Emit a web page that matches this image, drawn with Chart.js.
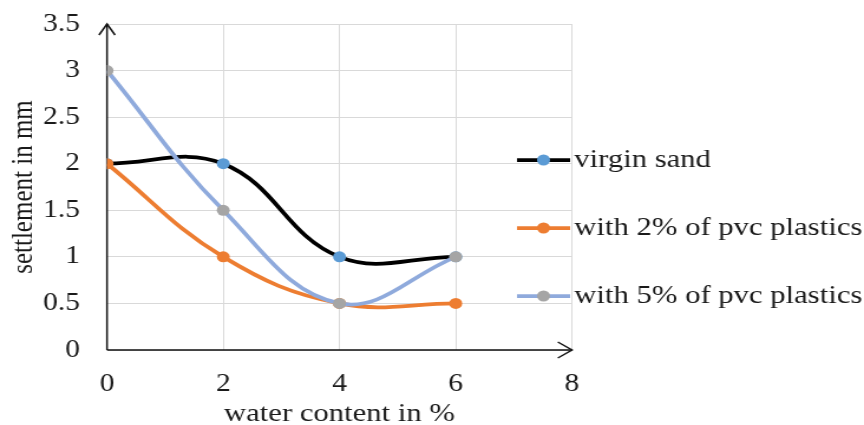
<!DOCTYPE html>
<html>
<head>
<meta charset="utf-8">
<script src="https://cdn.jsdelivr.net/npm/chart.js@4.4.1/dist/chart.umd.min.js"></script>
<style>
  html, body { margin: 0; padding: 0; background: #fff; overflow: hidden; }
  #wrap { position: absolute; left: 0; top: 0; width: 732px; height: 425px; transform: scaleX(1.18033); transform-origin: 0 0; }
</style>
</head>
<body>
<div id="wrap"><canvas id="c"></canvas></div>
<script>
// ---- data ----
const waterContent = [0, 2, 4, 6];
const virginSand = [2, 2, 1, 1];
const pvc2 = [2, 1, 0.5, 0.5];
const pvc5 = [3, 1.5, 0.5, 1];
const seriesLabels = ['virgin sand', 'with 2% of pvc plastics', 'with 5% of pvc plastics'];
const xTickValues = [0, 2, 4, 6, 8];
const xTickLabels = ['0', '2', '4', '6', '8'];
const yTickValues = [0, 0.5, 1, 1.5, 2, 2.5, 3, 3.5];
const yTickLabels = ['0', '0.5', '1', '1.5', '2', '2.5', '3', '3.5'];

const lineColors = ['#000000', '#ED7D31', '#8FAADC'];
const markerColors = ['#5B9BD5', '#ED7D31', '#A5A5A5'];
const seriesValues = [virginSand, pvc2, pvc5];

const FONT = "'Liberation Serif', 'Times New Roman', serif";
const TEXT = '#1a1a1a';

const datasets = seriesValues.map((vals, i) => ({
  label: seriesLabels[i],
  data: waterContent.map((x, j) => ({ x: x, y: vals[j] })),
  borderColor: lineColors[i],
  backgroundColor: markerColors[i],
  pointBackgroundColor: markerColors[i],
  pointBorderColor: markerColors[i],
  pointBorderWidth: 0,
  pointRadius: 5.5,
  borderWidth: 3.75,
  tension: 0.4,
  fill: false,
  order: 3 - i
}));

const axesPlugin = {
  id: 'axesArrows',
  beforeDatasetsDraw(chart) {
    const { ctx, scales: { x, y } } = chart;
    const x0 = x.getPixelForValue(0), xE = x.getPixelForValue(8);
    const y0 = y.getPixelForValue(0), yE = y.getPixelForValue(3.5);
    ctx.save();
    ctx.strokeStyle = '#111111';
    ctx.lineWidth = 1.5;
    ctx.lineCap = 'butt';
    ctx.beginPath();
    ctx.moveTo(x0, y0); ctx.lineTo(x0, yE);
    ctx.moveTo(x0, y0); ctx.lineTo(xE, y0);
    ctx.stroke();
    ctx.beginPath();
    ctx.moveTo(x0 - 6.8, yE + 11); ctx.lineTo(x0, yE); ctx.lineTo(x0 + 6.8, yE + 11);
    ctx.moveTo(xE - 12, y0 - 8); ctx.lineTo(xE, y0); ctx.lineTo(xE - 12, y0 + 8);
    ctx.stroke();
    ctx.restore();
  }
};

const legendPlugin = {
  id: 'sideLegend',
  afterDatasetsDraw(chart) {
    const { ctx } = chart;
    const ys = [160, 228, 296];
    ctx.save();
    chart.data.datasets.forEach((ds, i) => {
      const yy = ys[i];
      ctx.strokeStyle = ds.borderColor;
      ctx.lineWidth = 3.75;
      ctx.beginPath();
      ctx.moveTo(438, yy); ctx.lineTo(483, yy);
      ctx.stroke();
      ctx.fillStyle = ds.pointBackgroundColor;
      ctx.beginPath();
      ctx.arc(460.5, yy, 5.5, 0, Math.PI * 2);
      ctx.fill();
      ctx.fillStyle = TEXT;
      ctx.font = '26px ' + FONT;
      ctx.textAlign = 'left';
      ctx.textBaseline = 'middle';
      ctx.fillText(ds.label, 486.5, yy);
    });
    ctx.restore();
  }
};

new Chart(document.getElementById('c'), {
  type: 'line',
  data: { datasets: datasets },
  plugins: [axesPlugin, legendPlugin],
  options: {
    responsive: true,
    maintainAspectRatio: false,
    animation: false,
    layout: { padding: { left: 0, right: 247.4, top: 24, bottom: 0 } },
    plugins: { legend: { display: false }, tooltip: { enabled: false } },
    scales: {
      x: {
        type: 'linear',
        min: 0, max: 8,
        afterBuildTicks(scale) { scale.ticks = xTickValues.map(v => ({ value: v })); },
        afterFit(scale) { scale.height = 75; scale.paddingLeft = 0; scale.paddingRight = 0; },
        ticks: {
          padding: 19,
          color: TEXT,
          font: { family: FONT, size: 25 },
          callback: (v) => xTickLabels[xTickValues.indexOf(v)]
        },
        grid: { color: '#D9D9D9', lineWidth: 1, drawTicks: false },
        border: { display: false },
        title: {
          display: true,
          text: 'water content in %',
          color: TEXT,
          font: { family: FONT, size: 26, lineHeight: 0.846 },
          padding: { top: 0, bottom: 0 }
        }
      },
      y: {
        type: 'linear',
        min: 0, max: 3.5,
        afterBuildTicks(scale) { scale.ticks = yTickValues.map(v => ({ value: v })); },
        afterFit(scale) { scale.width = 90.65; scale.paddingTop = 0; scale.paddingBottom = 0; },
        ticks: {
          padding: 23,
          color: TEXT,
          font: { family: FONT, size: 25 },
          callback: (v) => yTickLabels[yTickValues.indexOf(v)]
        },
        grid: { color: '#D9D9D9', lineWidth: 1, drawTicks: false },
        border: { display: false },
        title: {
          display: true,
          text: 'settlement in mm',
          color: TEXT,
          font: { family: FONT, size: 25 },
          padding: { top: 5, bottom: 0 }
        }
      }
    }
  }
});
</script>
</body>
</html>
